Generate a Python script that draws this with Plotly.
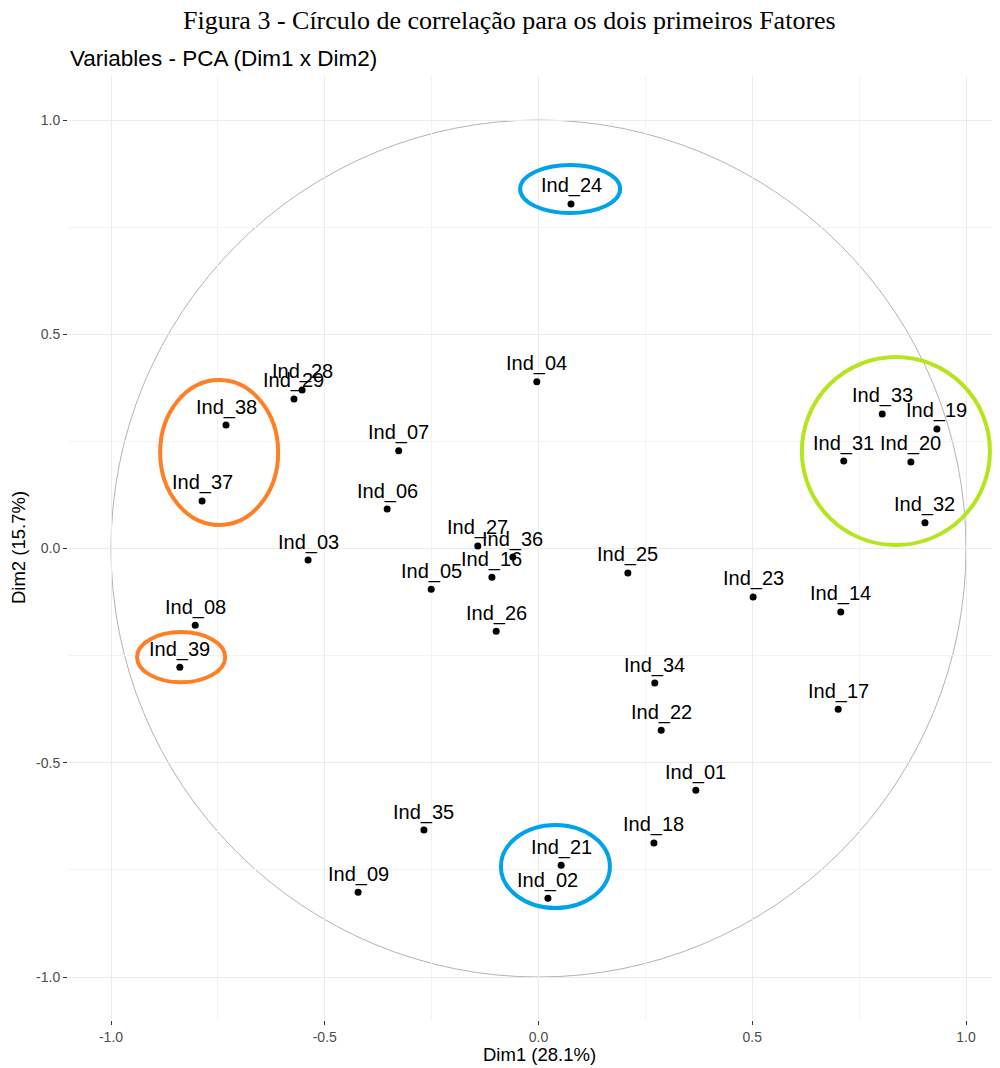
import plotly.graph_objects as go

# ---- data ----
labels = ["Ind_24", "Ind_04", "Ind_28", "Ind_29", "Ind_38", "Ind_37", "Ind_07", "Ind_06",
          "Ind_03", "Ind_27", "Ind_36", "Ind_16", "Ind_05", "Ind_26", "Ind_25", "Ind_23",
          "Ind_14", "Ind_17", "Ind_34", "Ind_22", "Ind_01", "Ind_18", "Ind_35", "Ind_09",
          "Ind_21", "Ind_02", "Ind_08", "Ind_39", "Ind_33", "Ind_19", "Ind_31", "Ind_20",
          "Ind_32"]
dim1 = [0.076, -0.004, -0.553, -0.572, -0.731, -0.787, -0.327, -0.354,
        -0.539, -0.142, -0.060, -0.109, -0.251, -0.099, 0.209, 0.502,
        0.707, 0.701, 0.272, 0.287, 0.368, 0.270, -0.268, -0.422,
        0.053, 0.022, -0.803, -0.839, 0.804, 0.932, 0.714, 0.871,
        0.904]
dim2 = [0.804, 0.389, 0.370, 0.349, 0.288, 0.111, 0.228, 0.092,
        -0.027, 0.006, -0.020, -0.067, -0.095, -0.193, -0.057, -0.113,
        -0.148, -0.375, -0.314, -0.424, -0.564, -0.687, -0.657, -0.802,
        -0.739, -0.816, -0.179, -0.277, 0.314, 0.279, 0.204, 0.202,
        0.060]

tick_vals = [-1.0, -0.5, 0.0, 0.5, 1.0]
tick_text = ["-1.0", "-0.5", "0.0", "0.5", "1.0"]

# highlight ellipses: (x0, x1, y0, y1, colour)
highlights = [
    (-0.885, -0.609, 0.055, 0.393, "#FF7F27"),
    (-0.939, -0.733, -0.312, -0.195, "#FF7F27"),
    (-0.043, 0.191, 0.783, 0.895, "#00A2E8"),
    (-0.088, 0.167, -0.839, -0.645, "#00A2E8"),
    (0.616, 1.056, 0.008, 0.447, "#B5E61D"),
]

title_text = "Figura 3 - Círculo de correlação para os dois primeiros Fatores"
subtitle_text = "Variables - PCA (Dim1 x Dim2)"
xlab = "Dim1 (28.1%)"
ylab = "Dim2 (15.7%)"

fig = go.Figure()

fig.add_trace(go.Scatter(
    x=dim1, y=dim2, mode="markers",
    marker=dict(color="black", size=7),
    hoverinfo="text", text=labels, showlegend=False,
))

shapes = []
# correlation circle
shapes.append(dict(type="circle", xref="x", yref="y", x0=-1, x1=1, y0=-1, y1=1,
                   line=dict(color="#b3b3b3", width=1), layer="below"))
# dashed axes
shapes.append(dict(type="line", xref="x", yref="paper", x0=0, x1=0, y0=0, y1=1,
                   line=dict(color="black", width=1, dash="4px,4px"), layer="below"))
shapes.append(dict(type="line", xref="paper", yref="y", x0=0, x1=1, y0=0, y1=0,
                   line=dict(color="black", width=1, dash="4px,4px"), layer="below"))
for x0, x1, y0, y1, c in highlights:
    shapes.append(dict(type="circle", xref="x", yref="y", x0=x0, x1=x1, y0=y0, y1=y1,
                       line=dict(color=c, width=4), layer="above"))

annotations = []
for lab, xv, yv in zip(labels, dim1, dim2):
    annotations.append(dict(x=xv, y=yv, xref="x", yref="y", text=lab, showarrow=False,
                            yshift=18, font=dict(family="Liberation Sans, Arial", size=20, color="black")))

annotations.append(dict(text=title_text, xref="paper", yref="paper", x=0.474, y=1.0585,
                        xanchor="center", yanchor="middle", showarrow=False, borderpad=0,
                        font=dict(family="Liberation Serif, Times New Roman", size=26, color="black")))
annotations.append(dict(text=subtitle_text, xref="paper", yref="paper", x=0.0, y=1.019,
                        xanchor="left", yanchor="middle", showarrow=False,
                        font=dict(family="Liberation Sans, Arial", size=22.5, color="black")))
annotations.append(dict(text=xlab, xref="paper", yref="paper", x=0.5064, y=-0.037,
                        xanchor="center", yanchor="middle", showarrow=False,
                        font=dict(family="Liberation Sans, Arial", size=18.5, color="black")))
annotations.append(dict(text=ylab, xref="paper", yref="paper", x=-0.0536, y=0.5,
                        xanchor="center", yanchor="middle", showarrow=False, textangle=-90,
                        font=dict(family="Liberation Sans, Arial", size=18.5, color="black")))

axis_common = dict(
    tickvals=tick_vals, ticktext=tick_text,
    showgrid=True, gridcolor="#ebebeb", gridwidth=1,
    minor=dict(tick0=0, dtick=0.25, showgrid=True, gridcolor="#f3f3f3", gridwidth=0.7),
    zeroline=False, showline=False,
    ticks="outside", ticklen=4, tickwidth=1, tickcolor="#333333",
    tickfont=dict(family="Liberation Sans, Arial", size=14, color="#4d4d4d"),
)

fig.update_layout(
    width=992, height=1060,
    margin=dict(l=60, r=0, t=68, b=48),
    paper_bgcolor="white", plot_bgcolor="white",
    xaxis=dict(range=[-1.1006, 1.0795], **axis_common),
    yaxis=dict(range=[-1.1003, 1.1027], **axis_common),
    shapes=shapes, annotations=annotations,
    showlegend=False,
)

fig.write_html("out.html")
